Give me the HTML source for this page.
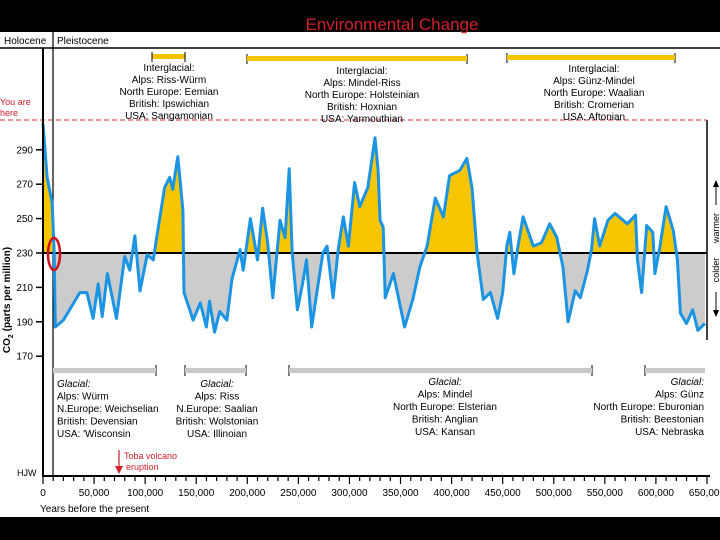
<!DOCTYPE html>
<html><head><meta charset="utf-8"><style>
body{margin:0;background:#000;}
svg{display:block;font-family:"Liberation Sans",Arial,sans-serif;}
</style></head><body>
<svg width="720" height="540" viewBox="0 0 720 540">
<rect x="0" y="0" width="720" height="540" fill="#000"/>
<rect x="0" y="32" width="720" height="485" fill="#fff"/>
<text x="392" y="30" fill="#d0202a" font-size="17" text-anchor="middle">Environmental Change</text>
<text x="4" y="44" font-size="10">Holocene</text>
<text x="57" y="44" font-size="10">Pleistocene</text>
<line x1="0" y1="48" x2="720" y2="48" stroke="#000" stroke-width="1.5"/>
<line x1="53" y1="32" x2="53" y2="476" stroke="#000" stroke-width="1.2"/>
<line x1="707" y1="120" x2="707" y2="340" stroke="#000" stroke-width="1.5"/>
<g id="fills"></g>
<line x1="43" y1="253" x2="707" y2="253" stroke="#000" stroke-width="2"/>
<g id="series"></g>
<line x1="0" y1="120" x2="707" y2="120" stroke="#c0392b" stroke-width="1" stroke-dasharray="5,3"/>
<text x="0" y="105" fill="#d0202a" font-size="9"><tspan x="0">You are</tspan><tspan x="0" dy="11">here</tspan></text>
<ellipse cx="54" cy="254" rx="6" ry="16" fill="none" stroke="#d0101a" stroke-width="2.5"/>
<line x1="43" y1="48" x2="43" y2="477" stroke="#000" stroke-width="2"/>
<line x1="42" y1="476" x2="710" y2="476" stroke="#000" stroke-width="2"/>
<g id="yticks"></g><g id="xticks"></g>
<text transform="translate(10,300) rotate(-90)" font-size="10" font-weight="bold" text-anchor="middle">CO<tspan font-size="7" dy="3">2</tspan><tspan dy="-3"> (parts per million)</tspan></text>
<text x="40" y="512" font-size="10">Years before the present</text>
<text x="17" y="476" font-size="9">HJW</text>
<line x1="119" y1="450" x2="119" y2="468" stroke="#d0202a" stroke-width="1.2"/>
<polygon points="115,466 123,466 119,474" fill="#d0202a"/>
<text x="124" y="459" fill="#d0202a" font-size="9"><tspan x="124">Toba volcano</tspan><tspan x="126" dy="11">eruption</tspan></text>
<text transform="translate(719,228) rotate(-90)" font-size="9" text-anchor="middle">warmer</text>
<text transform="translate(719,270) rotate(-90)" font-size="9" text-anchor="middle">colder</text>
<line x1="716" y1="183" x2="716" y2="205" stroke="#000"/>
<polygon points="713,187 719,187 716,180"/>
<line x1="716" y1="292" x2="716" y2="314" stroke="#000"/>
<polygon points="713,310 719,310 716,317"/>
<g font-size="10" text-anchor="middle">
<rect x="152" y="54" width="33" height="5" fill="#f5c400"/>
<path d="M152,52V62M185,52V62M247,54V64M467,54V64M507,53V63M675,53V63M156,365V376M185,365V376M246,365V376M289,365V376M592,365V376M645,365V376" stroke="#000" stroke-width="1"/>
<text x="169" y="71"><tspan x="169">Interglacial:</tspan><tspan x="169" dy="12">Alps: Riss-Würm</tspan><tspan x="169" dy="12">North Europe: Eemian</tspan><tspan x="169" dy="12">British: Ipswichian</tspan><tspan x="169" dy="12">USA: Sangamonian</tspan></text>
<rect x="247" y="56" width="220" height="5" fill="#f5c400"/>
<text x="362" y="74"><tspan x="362">Interglacial:</tspan><tspan x="362" dy="12">Alps: Mindel-Riss</tspan><tspan x="362" dy="12">North Europe: Holsteinian</tspan><tspan x="362" dy="12">British: Hoxnian</tspan><tspan x="362" dy="12">USA: Yarmouthian</tspan></text>
<rect x="507" y="55" width="168" height="5" fill="#f5c400"/>
<text x="594" y="72"><tspan x="594">Interglacial:</tspan><tspan x="594" dy="12">Alps: Günz-Mindel</tspan><tspan x="594" dy="12">North Europe: Waalian</tspan><tspan x="594" dy="12">British: Cromerian</tspan><tspan x="594" dy="12">USA: Aftonian</tspan></text>
<rect x="53" y="368" width="103" height="5" fill="#c8c8c8"/>
<rect x="185" y="368" width="61" height="5" fill="#c8c8c8"/>
<rect x="289" y="368" width="303" height="5" fill="#c8c8c8"/>
<rect x="645" y="368" width="60" height="5" fill="#c8c8c8"/>
<text x="57" y="387" text-anchor="start"><tspan x="57" font-style="italic">Glacial:</tspan><tspan x="57" dy="12.5">Alps: Würm</tspan><tspan x="57" dy="12.5">N.Europe: Weichselian</tspan><tspan x="57" dy="12.5">British: Devensian</tspan><tspan x="57" dy="12.5">USA: 'Wisconsin</tspan></text>
<text x="217" y="387"><tspan x="217" font-style="italic">Glacial:</tspan><tspan x="217" dy="12.5">Alps: Riss</tspan><tspan x="217" dy="12.5">N.Europe: Saalian</tspan><tspan x="217" dy="12.5">British: Wolstonian</tspan><tspan x="217" dy="12.5">USA: Illinoian</tspan></text>
<text x="445" y="385"><tspan x="445" font-style="italic">Glacial:</tspan><tspan x="445" dy="12.5">Alps: Mindel</tspan><tspan x="445" dy="12.5">North Europe: Elsterian</tspan><tspan x="445" dy="12.5">British: Anglian</tspan><tspan x="445" dy="12.5">USA: Kansan</tspan></text>
<text x="704" y="385" text-anchor="end"><tspan x="704" font-style="italic">Glacial:</tspan><tspan x="704" dy="12.5">Alps: Günz</tspan><tspan x="704" dy="12.5">North Europe: Eburonian</tspan><tspan x="704" dy="12.5">British: Beestonian</tspan><tspan x="704" dy="12.5">USA: Nebraska</tspan></text>
</g>
<defs>
<clipPath id="above"><rect x="0" y="0" width="720" height="253"/></clipPath>
<clipPath id="below"><rect x="0" y="253" width="720" height="300"/></clipPath>
</defs>
</svg>
<script>
const years=[0,4,9,11,12,20,26,36,43,49,54,58,63,72,80,85,90,95,102,108,111,119,124,127,132,137,138,147,154,160,163,168,173,180,185,193,196,203,210,215,220,225,232,237,241,244,249,254,258,263,268,274,278,284,289,294,299,305,310,318,325,328,330,333,335,343,354,362,369,376,384,392,398,408,415,420,425,431,438,445,450,454,457,461,465,470,480,488,496,503,509,514,521,526,533,537,540,545,553,560,572,580,582,586,591,597,599,604,610,617,621,624,630,636,641,648];
const co2=[305,274,259,230,187,191,197,207,207,192,212,193,218,192,228,220,240,208,229,226,238,268,274,267,286,255,207,191,201,187,202,184,196,191,215,232,220,250,226,256,236,204,249,239,279,230,197,212,226,187,207,230,234,204,232,251,234,271,257,268,297,278,249,245,204,218,187,203,222,234,262,251,275,278,285,268,230,203,207,192,207,234,242,218,234,251,234,236,247,239,222,190,208,204,220,232,250,234,249,253,247,252,226,207,246,242,218,234,257,243,226,195,189,197,185,189];
const yTicks=[170,190,210,230,250,270,290];
const xTicks=[0,50000,100000,150000,200000,250000,300000,350000,400000,450000,500000,550000,600000,650000];
const NS='http://www.w3.org/2000/svg';
const X=k=>43+k*1.0215;
const Y=v=>253-(v-230)*1.72;
const xy=v=>43+v/1000*1.0215;
function mk(t,a,p){const e=document.createElementNS(NS,t);for(const k in a)e.setAttribute(k,a[k]);p.appendChild(e);return e;}
const pts=years.map((k,i)=>X(k).toFixed(1)+','+Y(co2[i]).toFixed(1)).join(' ');
const area=X(years[0])+','+Y(230)+' '+pts+' '+X(years[years.length-1])+','+Y(230);
const fills=document.getElementById('fills');
const up=mk('polygon',{points:area,fill:'#f7c600','clip-path':'url(#above)'},fills);


const dn=mk('polygon',{points:area,fill:'#cccccc','clip-path':'url(#below)'},fills);


const ln=mk('polyline',{points:pts,fill:'none',stroke:'#1b94e4','stroke-width':3,'stroke-linejoin':'round'},document.getElementById('series'));


const yt=document.getElementById('yticks');
yTicks.forEach(v=>{
 const l=mk('line',{x1:36,x2:43,y1:Y(v),y2:Y(v),stroke:'#000','stroke-width':1.5},yt);
 
 
 const t=mk('text',{x:33,y:Y(v)+3.5,'font-size':10,'text-anchor':'end'},yt);t.textContent=v;
 
 
});
const xt=document.getElementById('xticks');
for(let v=0;v<=650000;v+=10000){
 const l=mk('line',{x1:xy(v),x2:xy(v),y1:476,y2:v%50000===0?484:481,stroke:'#000','stroke-width':1.2},xt);
 
 
}
xTicks.forEach(v=>{
 const t=mk('text',{x:xy(v),y:496,'font-size':10,'text-anchor':'middle'},xt);t.textContent=v.toLocaleString('en-US');
 
 
});
</script>
</body></html>
